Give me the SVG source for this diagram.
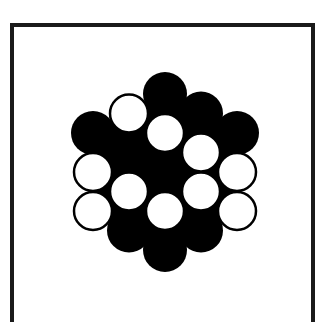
<svg xmlns="http://www.w3.org/2000/svg" width="322" height="322" viewBox="0 0 322 322">
<style>
.frame{fill:none;stroke:#1a1a1a;stroke-width:4}
.b{fill:#000}
.w{fill:#fff;stroke:#000;stroke-width:2.5}
</style>
<rect width="322" height="322" fill="#fff"/>
<rect class="frame" x="12" y="25" width="301" height="310"/>
<polygon class="b" points="165,94 201,113.5 237,133 237,172 237,211 201,230.5 165,250 129,230.5 93,211 93,172 93,133 129,113.5"/>
<g id="black-circles">
<circle class="b" cx="165" cy="94" r="22"/>
<circle class="b" cx="165" cy="172" r="22"/>
<circle class="b" cx="165" cy="250" r="22"/>
<circle class="b" cx="129" cy="152.5" r="22"/>
<circle class="b" cx="129" cy="230.5" r="22"/>
<circle class="b" cx="201" cy="113.5" r="22"/>
<circle class="b" cx="201" cy="230.5" r="22"/>
<circle class="b" cx="93" cy="133" r="22"/>
<circle class="b" cx="237" cy="133" r="22"/>
</g>
<g id="white-circles">
<circle class="w" cx="165" cy="133" r="19"/>
<circle class="w" cx="165" cy="211" r="19"/>
<circle class="w" cx="129" cy="113.5" r="19"/>
<circle class="w" cx="129" cy="191.5" r="19"/>
<circle class="w" cx="201" cy="152.5" r="19"/>
<circle class="w" cx="201" cy="191.5" r="19"/>
<circle class="w" cx="93" cy="172" r="19"/>
<circle class="w" cx="93" cy="211" r="19"/>
<circle class="w" cx="237" cy="172" r="19"/>
<circle class="w" cx="237" cy="211" r="19"/>
</g>
</svg>
